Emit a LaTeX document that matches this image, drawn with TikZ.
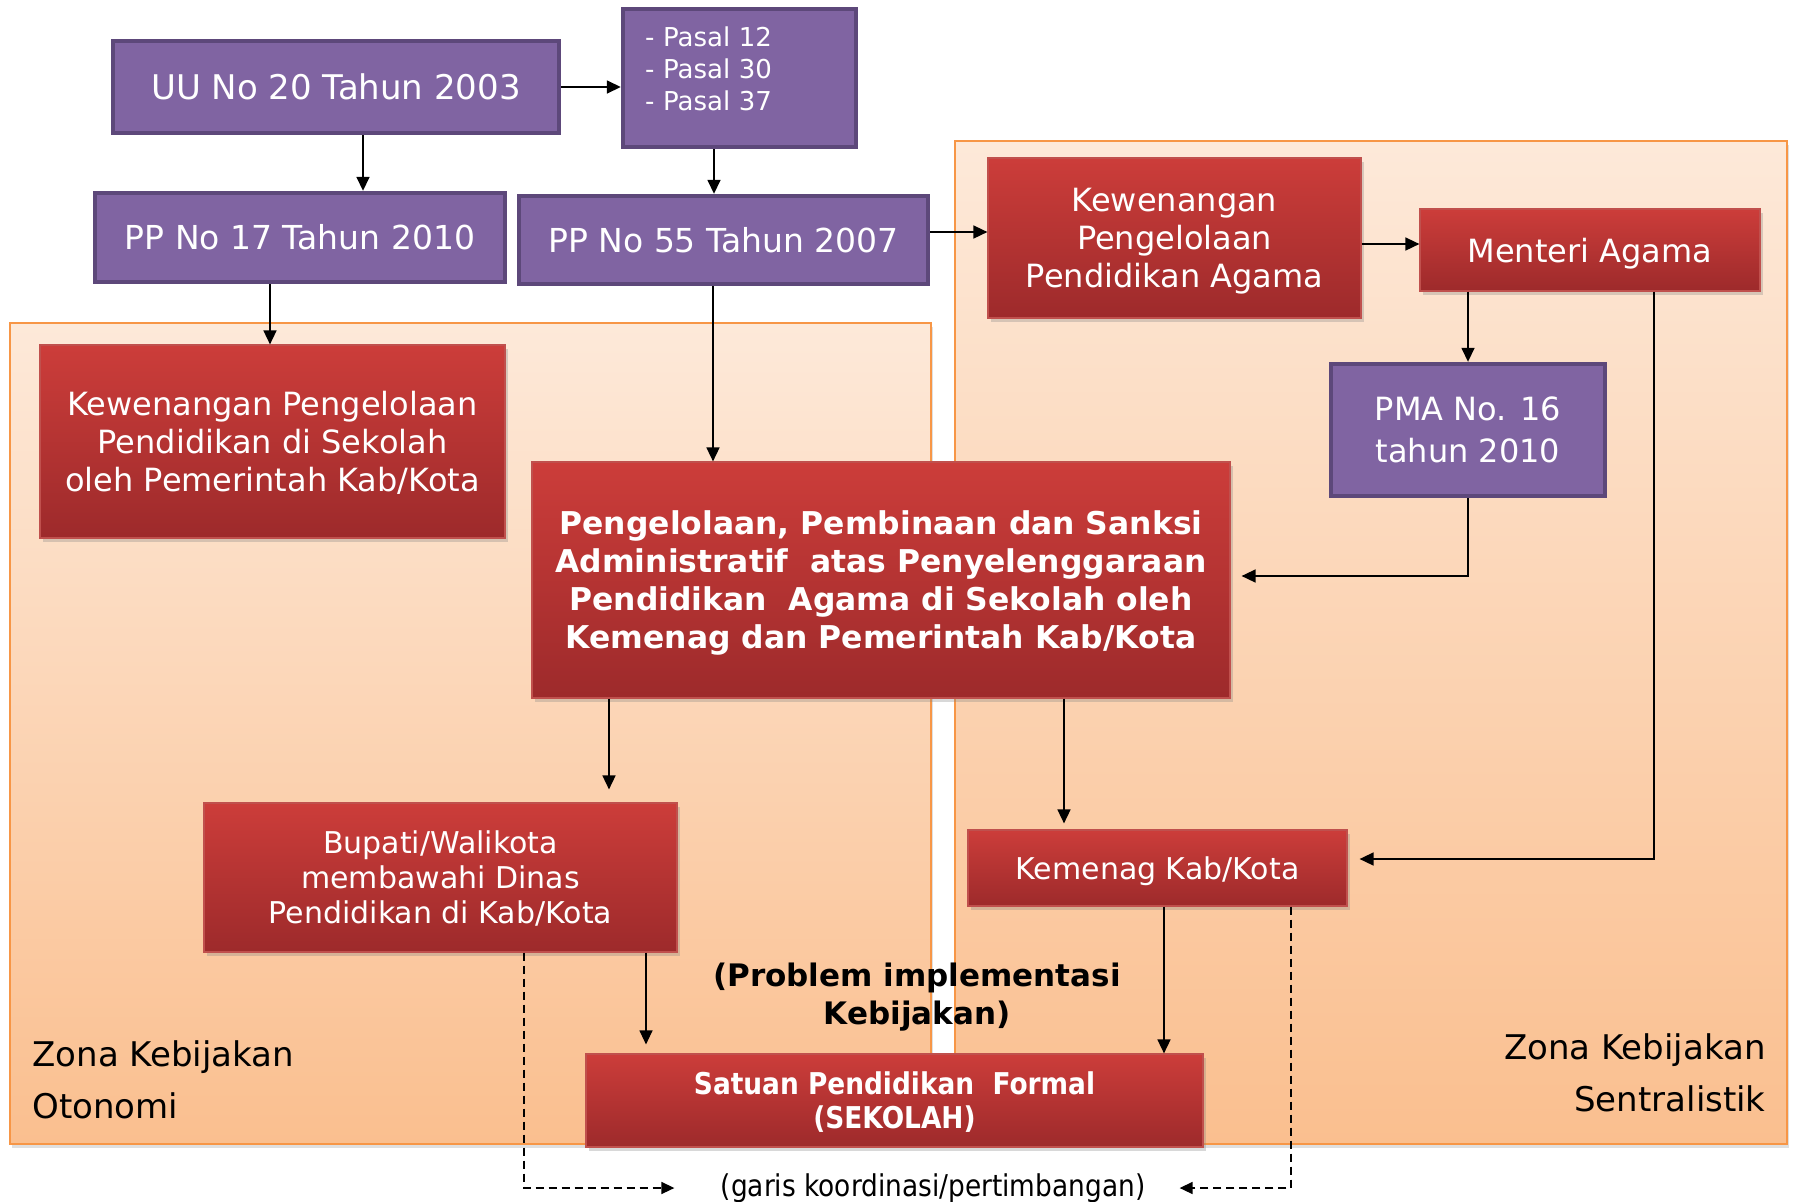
\documentclass[tikz,border=0pt]{standalone}
\usepackage{fontspec}
\setmainfont{DejaVu Sans}
\newfontfamily\narrowfont[FakeStretch=0.88]{DejaVu Sans}
\usetikzlibrary{arrows.meta,calc,shadows}

\definecolor{purplefill}{HTML}{8064A2}
\definecolor{purpleline}{HTML}{5D487A}
\definecolor{redtop}{HTML}{CC3D3A}
\definecolor{redbot}{HTML}{9D2A2B}
\definecolor{redline}{HTML}{C0504D}
\definecolor{zonetop}{HTML}{FDE9D9}
\definecolor{zonebot}{HTML}{FABF8F}
\definecolor{zoneline}{HTML}{F79646}

\tikzset{
  purplebox/.style={draw=purpleline, line width=2.2pt, fill=purplefill,
    text=white, align=center, inner sep=0pt},
  redbox/.style={draw=redline, line width=0.6pt, top color=redtop,
    bottom color=redbot, text=white, align=center, inner sep=0pt,
    text depth=0pt,
    drop shadow={shadow xshift=1.5pt, shadow yshift=-2pt, opacity=0.3}},
  zone/.style={draw=zoneline, line width=1pt, top color=zonetop,
    bottom color=zonebot,
    drop shadow={shadow xshift=1pt, shadow yshift=-2pt, opacity=0.25}},
  arr/.style={-{Triangle[length=7pt,width=6.5pt]}, line width=0.8pt},
  dashline/.style={-{Triangle[length=6.5pt,width=6pt]}, line width=0.8pt,
    dash pattern=on 4pt off 2.5pt}
}

\begin{document}
\begin{tikzpicture}[x=0.5pt,y=-0.5pt]
    \useasboundingbox (0,0) rectangle (1795,1201);
    \fill[white] (0,0) rectangle (1795,1201);

    % the two zones
    \draw[zone] (10,323) rectangle (931,1144);
    \draw[zone] (955,141) rectangle (1787,1144);

    % regulations (purple)
    \node[purplebox, minimum width=223pt, minimum height=46pt,
      font=\fontsize{17}{20}\selectfont] (uu) at (336,87) {UU No 20 Tahun 2003};
    \node[purplebox, text width=94.5pt, inner xsep=11pt, align=left,
      minimum height=69pt, text height=1.5pt, text depth=33.5pt,
      font=\fontsize{13}{16}\selectfont] (pasal) at (739.5,78)
      {- Pasal 12\\- Pasal 30\\- Pasal 37};
    \node[purplebox, minimum width=205pt, minimum height=44.5pt,
      font=\fontsize{16.5}{20}\selectfont] (pp17) at (300,237.5) {PP No 17 Tahun 2010};
    \node[purplebox, minimum width=204.5pt, minimum height=44pt,
      font=\fontsize{16.5}{20}\selectfont] (pp55) at (723.5,240) {PP No 55 Tahun 2007};
    \node[purplebox, minimum width=137pt, minimum height=66pt,
      font=\fontsize{16}{21}\selectfont] (pma) at (1468,430) {PMA No. 16\\tahun 2010};

    % authorities (red)
    \node[redbox, minimum width=232.5pt, minimum height=96.5pt, text depth=-2.5pt,
      font=\fontsize{16}{19}\selectfont] (kewL) at (272.5,441.5)
      {Kewenangan Pengelolaan\\Pendidikan di Sekolah\\oleh Pemerintah Kab/Kota};
    \node[redbox, minimum width=186.5pt, minimum height=80pt,
      font=\fontsize{16}{19}\selectfont] (kewA) at (1174.5,238)
      {Kewenangan\\Pengelolaan\\Pendidikan Agama};
    \node[redbox, minimum width=170pt, minimum height=41pt,
      font=\fontsize{16}{19}\selectfont] (menteri) at (1590,250) {Menteri Agama};
    \node[redbox, minimum width=349pt, minimum height=118pt,
      font=\bfseries\fontsize{15.7}{19}\selectfont] (big) at (881,580)
      {Pengelolaan, Pembinaan dan Sanksi\\Administratif \ atas Penyelenggaraan\\
       Pendidikan \ Agama di Sekolah oleh\\Kemenag dan Pemerintah Kab/Kota};
    \node[redbox, minimum width=236.5pt, minimum height=74.5pt, text depth=-3pt,
      font=\fontsize{15}{17.5}\selectfont] (bupati) at (440.5,877.5)
      {Bupati/Walikota\\membawahi Dinas\\Pendidikan di Kab/Kota};
    \node[redbox, minimum width=189.5pt, minimum height=38pt,
      font=\fontsize{15}{18}\selectfont] (kemenag) at (1157.5,868) {Kemenag Kab/Kota};
    \node[redbox, minimum width=308.5pt, minimum height=46.5pt,
      font=\narrowfont\bfseries\fontsize{15}{17}\selectfont] (satuan) at (894.5,1100.5)
      {Satuan Pendidikan \ Formal\\(SEKOLAH)};

    % free texts
    \node[align=center, font=\bfseries\fontsize{15.5}{19}\selectfont] (problem)
      at (917,997) {(Problem implementasi\\Kebijakan)};
    \node[anchor=west, align=left, inner sep=0pt,
      font=\fontsize{17}{26}\selectfont] (otonomi) at (32,1080)
      {Zona Kebijakan\\Otonomi};
    \node[anchor=east, align=right, inner sep=0pt,
      font=\fontsize{17}{26}\selectfont] (sentral) at (1766,1073)
      {Zona Kebijakan\\Sentralistik};
    \node[inner sep=0pt, font=\narrowfont\fontsize{15}{18}\selectfont] (garis)
      at (933,1188) {(garis koordinasi/pertimbangan)};

    % start points of the connectors
    \coordinate (uuB)  at ($(uu.south)+(27,0)$);
    \coordinate (psB)  at ($(pasal.south)+(-25.5,0)$);
    \coordinate (ppE)  at ($(pp55.east)+(0,-8)$);
    \coordinate (p17B) at ($(pp17.south)+(-30,0)$);
    \coordinate (p55B) at ($(pp55.south)+(-10.5,0)$);
    \coordinate (kwE)  at ($(kewA.east)+(0,6)$);
    \coordinate (mnB)  at ($(menteri.south)+(64,0)$);
    \coordinate (bgL)  at ($(big.south)+(-272,0)$);
    \coordinate (bgR)  at ($(big.south)+(183,0)$);
    \coordinate (bpB)  at ($(bupati.south)+(205.5,0)$);
    \coordinate (kmB)  at ($(kemenag.south)+(6.5,0)$);

    % connectors
    \draw[arr] (uu.east) -- (uu.east -| pasal.west);
    \draw[arr] (uuB) -- (uuB |- pp17.north);
    \draw[arr] (psB) -- (psB |- pp55.north);
    \draw[arr] (ppE) -- (ppE -| kewA.west);
    \draw[arr] (p17B) -- (p17B |- kewL.north);
    \draw[arr] (p55B) -- (p55B |- big.north);
    \draw[arr] (kwE) -- (kwE -| menteri.west);
    \draw[arr] (pma.north |- menteri.south) -- (pma.north);
    \draw[arr] (pma.south) |- ($(big.east)+(11,-4)$);
    \draw[arr] (mnB) |- ($(kemenag.east)+(12,-9)$);
    \draw[arr, shorten >=6.5pt] (bgL) -- (bgL |- bupati.north);
    \draw[arr, shorten >=3pt] (bgR) -- (bgR |- kemenag.north);
    \draw[arr, line width=0.6pt, shorten >=4.5pt] (bpB) -- (bpB |- satuan.north);
    \draw[arr] (kmB) -- (kmB |- satuan.north);

    % coordination lines
    \draw[dashline, shorten >=23pt] ($(bupati.south)+(83.5,0)$) |- (garis.west);
    \draw[dashline, shorten >=17pt] ($(kemenag.south)+(133.5,0)$) |- (garis.east);
\end{tikzpicture}
\end{document}
